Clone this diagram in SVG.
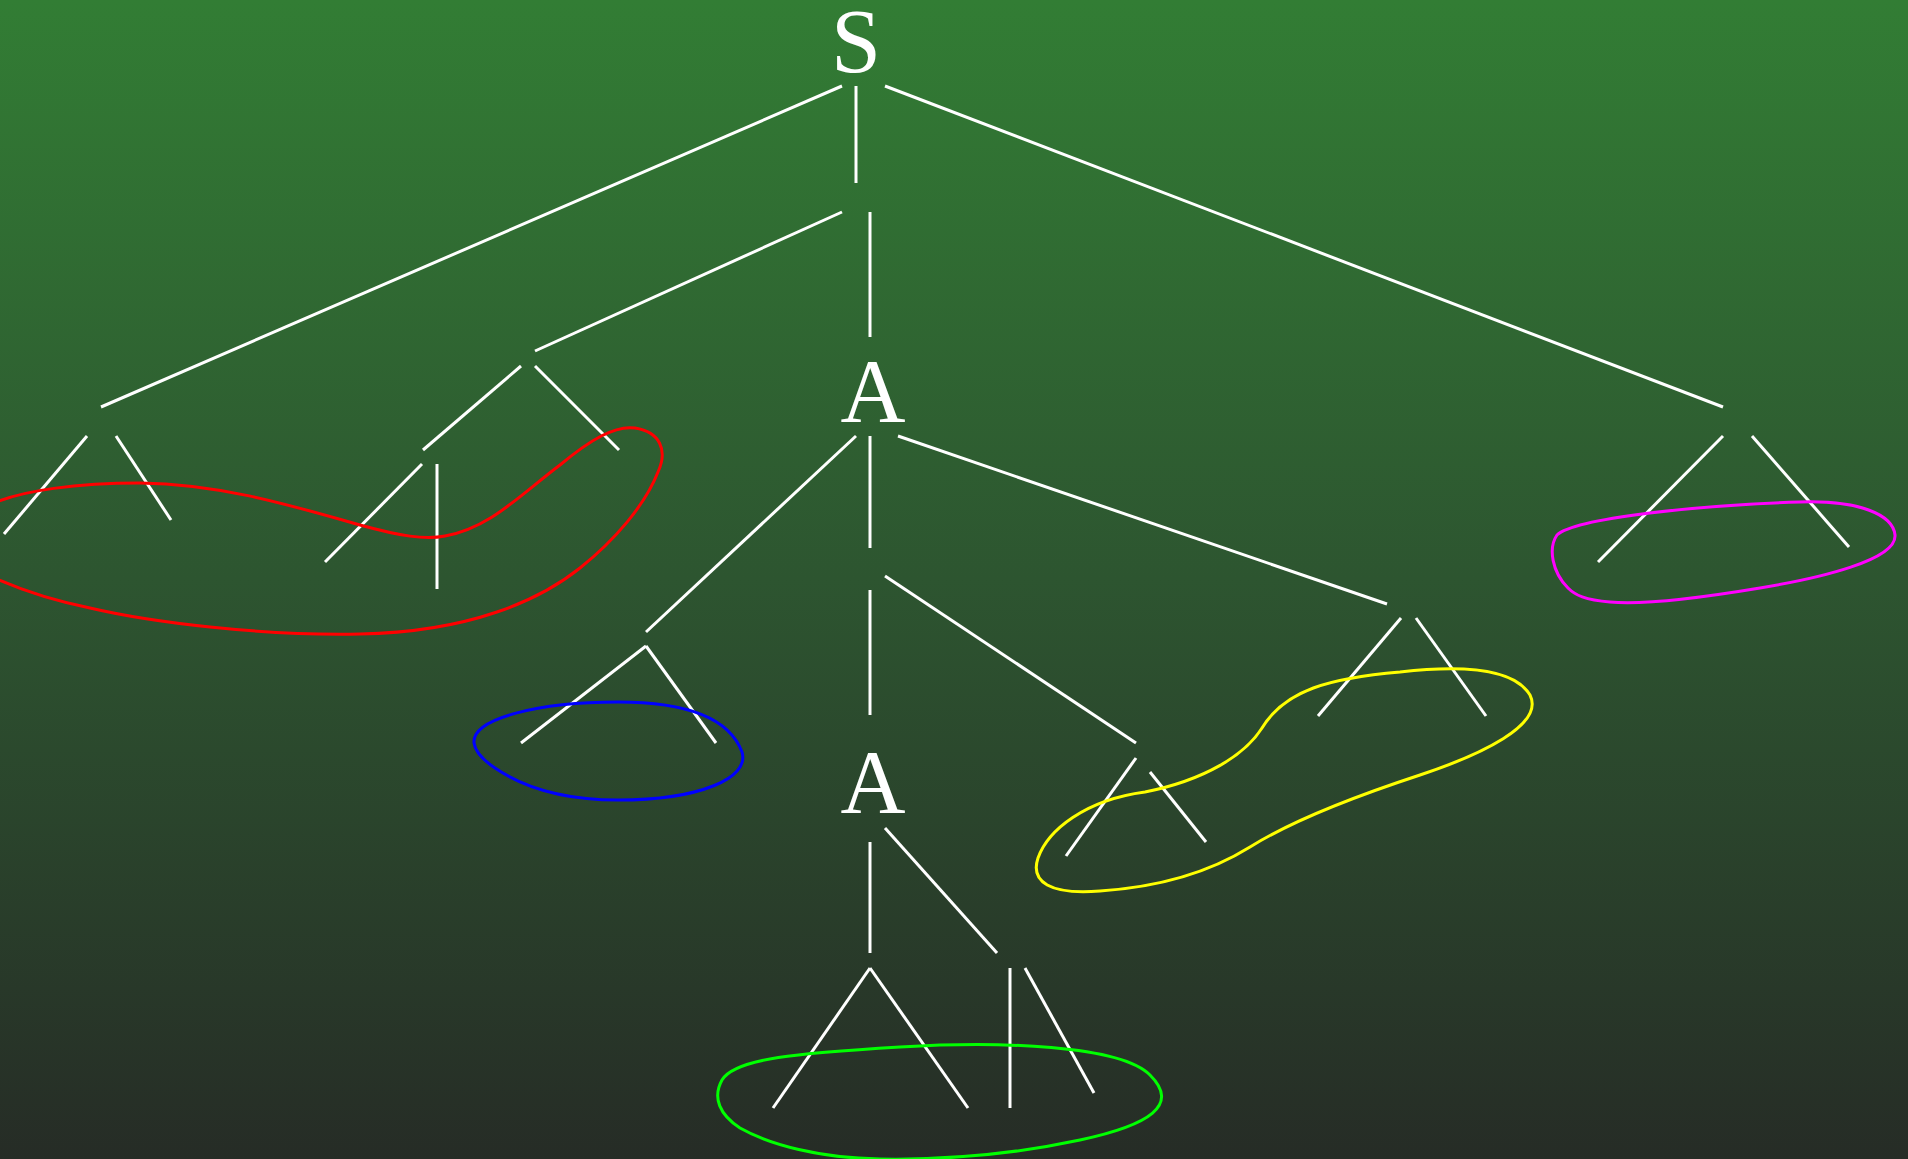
<svg xmlns="http://www.w3.org/2000/svg" width="1908" height="1159" viewBox="0 0 1908 1159">
<defs>
<linearGradient id="bg" x1="0" y1="0" x2="0" y2="1">
<stop offset="0" stop-color="#327d34"/>
<stop offset="0.5" stop-color="#2d5530"/>
<stop offset="1" stop-color="#262c26"/>
</linearGradient>
<style>
.lbl{font-family:"Liberation Serif","Times New Roman",serif;font-size:90px;fill:#ffffff;text-anchor:middle}
.e{stroke:#ffffff;stroke-width:3;fill:none}
.blob{fill:none;stroke-width:3}
</style>
</defs>
<rect width="1908" height="1159" fill="url(#bg)"/>
<g id="node-S"><text class="lbl" x="856" y="72">S</text></g>
<g id="node-A1"><text class="lbl" x="873" y="422">A</text></g>
<g id="node-A2"><text class="lbl" x="873" y="813">A</text></g>
<g id="connectors">
<line class="e" x1="842" y1="86" x2="101" y2="407"/>
<line class="e" x1="856" y1="86" x2="856" y2="183"/>
<line class="e" x1="885" y1="86" x2="1723" y2="407"/>
<line class="e" x1="842" y1="212" x2="535" y2="351"/>
<line class="e" x1="870" y1="212" x2="870" y2="337"/>
<line class="e" x1="856" y1="436" x2="646" y2="632"/>
<line class="e" x1="870" y1="436" x2="870" y2="548"/>
<line class="e" x1="898" y1="436" x2="1387" y2="604"/>
<line class="e" x1="885" y1="576" x2="1136" y2="743"/>
<line class="e" x1="870" y1="590" x2="870" y2="715"/>
<line class="e" x1="870" y1="842" x2="870" y2="953"/>
<line class="e" x1="885" y1="828" x2="997" y2="953"/>
<line class="e" x1="870" y1="968" x2="773" y2="1108"/>
<line class="e" x1="870" y1="968" x2="968" y2="1108"/>
<line class="e" x1="1010" y1="968" x2="1010" y2="1108"/>
<line class="e" x1="1025" y1="968" x2="1094" y2="1093"/>
<line class="e" x1="646" y1="646" x2="521" y2="743"/>
<line class="e" x1="646" y1="646" x2="716" y2="743"/>
<line class="e" x1="1401" y1="618" x2="1318" y2="716"/>
<line class="e" x1="1416" y1="618" x2="1486" y2="716"/>
<line class="e" x1="1136" y1="758" x2="1066" y2="856"/>
<line class="e" x1="1150" y1="772" x2="1206" y2="842"/>
<line class="e" x1="1723" y1="436" x2="1598" y2="562"/>
<line class="e" x1="1752" y1="436" x2="1849" y2="547"/>
<line class="e" x1="87" y1="436" x2="4" y2="534"/>
<line class="e" x1="116" y1="436" x2="171" y2="520"/>
<line class="e" x1="521" y1="366" x2="423" y2="450"/>
<line class="e" x1="535" y1="366" x2="619" y2="450"/>
<line class="e" x1="422" y1="464" x2="325" y2="562"/>
<line class="e" x1="437" y1="464" x2="437" y2="589"/>
</g>
<g id="group-red"><path class="blob" stroke="#ff0000" d="M -10,505 C 20,490 80,483 140,483 C 220,484 290,505 360,525 C 400,536 425,540 445,536 C 490,528 520,495 560,465 C 590,440 615,425 635,428 C 660,432 668,450 658,472 C 645,505 615,540 580,568 C 540,600 470,632 360,634 C 260,636 150,622 90,608 C 50,600 20,590 -10,576 Z"/></g>
<g id="group-blue"><path class="blob" stroke="#0000ff" d="M 474,743 C 472,718 540,702 618,702 C 690,702 730,720 742,752 C 750,778 700,800 618,800 C 560,800 520,785 495,768 C 480,758 475,750 474,743 Z"/></g>
<g id="group-yellow"><path class="blob" stroke="#ffff00" d="M 1262,728 C 1285,690 1330,678 1400,672 C 1470,664 1515,670 1530,695 C 1545,725 1480,755 1420,775 C 1350,798 1290,822 1250,847 C 1210,872 1160,887 1100,891 C 1050,895 1030,882 1038,858 C 1048,830 1085,800 1145,792 C 1205,780 1245,755 1262,728 Z"/></g>
<g id="group-magenta"><path class="blob" stroke="#ff00ff" d="M 1557,535 C 1575,518 1700,505 1800,502 C 1860,500 1893,515 1895,535 C 1897,560 1820,578 1760,588 C 1700,598 1640,605 1610,602 C 1585,600 1575,595 1568,588 C 1552,572 1548,548 1557,535 Z"/></g>
<g id="group-green"><path class="blob" stroke="#00ff00" d="M 722,1080 C 735,1058 800,1053 900,1047 C 1000,1041 1120,1045 1150,1075 C 1180,1105 1150,1125 1080,1140 C 1010,1155 940,1160 880,1159 C 820,1158 770,1145 740,1128 C 720,1115 712,1098 722,1080 Z"/></g>
</svg>
